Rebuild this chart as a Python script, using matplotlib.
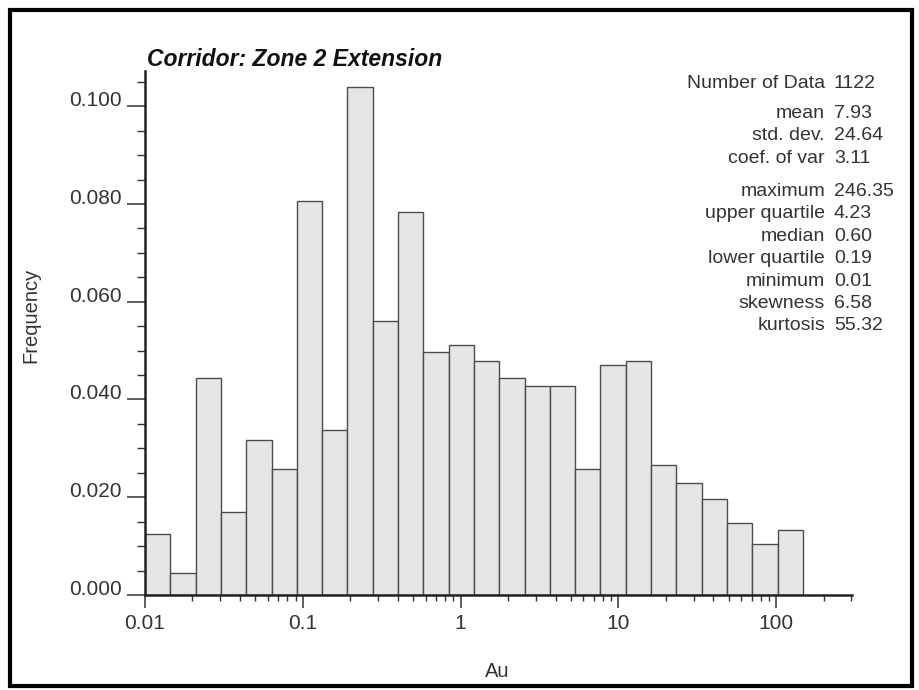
import numpy as np
import matplotlib
matplotlib.use("Agg")
import matplotlib.pyplot as plt
from matplotlib.patches import Rectangle
from matplotlib.ticker import LogLocator, FixedLocator, NullFormatter

plt.rcParams['font.family'] = ['Liberation Sans', 'DejaVu Sans']

# histogram of Au (log bins), frequencies
bin_lo = 0.01
bin_hi = 148.0
freq = [0.0124, 0.0044, 0.0444, 0.0169, 0.0318, 0.0257, 0.0806, 0.0338,
        0.1039, 0.0561, 0.0783, 0.0497, 0.0512, 0.0479, 0.0444, 0.0427,
        0.0427, 0.0257, 0.0470, 0.0479, 0.0266, 0.0229, 0.0196, 0.0148,
        0.0104, 0.0132]

stat_names = ["Number of Data", "mean", "std. dev.", "coef. of var",
              "maximum", "upper quartile", "median", "lower quartile",
              "minimum", "skewness", "kurtosis"]
stat_vals = ["1122", "7.93", "24.64", "3.11", "246.35", "4.23", "0.60",
             "0.19", "0.01", "6.58", "55.32"]

title = "Corridor: Zone 2 Extension"
yticks = [0.0, 0.02, 0.04, 0.06, 0.08, 0.10]
xticks = [0.01, 0.1, 1, 10, 100]
xticklabels = ["0.01", "0.1", "1", "10", "100"]

edges = np.logspace(np.log10(bin_lo), np.log10(bin_hi), len(freq) + 1)

W, H = 920, 690
fig = plt.figure(figsize=(W/100, H/100), dpi=100)
ax = fig.add_axes([145/W, 1-595/H, (852-145)/W, (595-71)/H])

ax.bar(edges[:-1], freq, width=np.diff(edges), align='edge',
       color='#e6e6e6', edgecolor='#4d4d4d', linewidth=1.0)

ax.set_xscale('log')
ax.set_xlim(0.01, 303)
ax.set_ylim(0, 0.1072)

for s in ['top', 'right']:
    ax.spines[s].set_visible(False)
for s in ['left', 'bottom']:
    ax.spines[s].set_linewidth(1.8)
    ax.spines[s].set_color('#222222')

ax.xaxis.set_major_locator(FixedLocator(xticks))
ax.xaxis.set_minor_locator(LogLocator(base=10, subs=np.arange(2, 10)))
ax.xaxis.set_minor_formatter(NullFormatter())
ax.set_xticklabels(xticklabels)
ax.yaxis.set_major_locator(FixedLocator(yticks))
ax.yaxis.set_minor_locator(FixedLocator(np.arange(0, 0.1071, 0.005)))
ax.set_yticklabels(["%.3f" % v for v in yticks])
ax.yaxis.set_minor_formatter(NullFormatter())

ax.tick_params(axis='x', which='major', direction='out', length=9, width=1.1,
               labelsize=15, colors='#333333', pad=5)
ax.tick_params(axis='x', which='minor', direction='out', length=4.5, width=1.0,
               colors='#333333')
ax.tick_params(axis='y', which='major', direction='out', length=13, width=1.1,
               labelsize=15, colors='#333333', pad=4)
ax.tick_params(axis='y', which='minor', direction='out', length=5.5, width=1.0,
               colors='#333333')
for lab in ax.get_yticklabels():
    lab.set_va('baseline')

fig.text(497/W, 1-677/H, "Au", fontsize=14.5, ha='center', va='baseline',
         color='#333333')
fig.text(31/W, 1-315/H, "Frequency", fontsize=14.5, rotation=90,
         ha='center', va='center', color='#333333')

fig.text(147/W, 1-66/H, title, fontsize=16.5, fontweight='bold',
         fontstyle='italic', va='baseline', ha='left', color='#111111')

# stats block
ys = [88, 118, 140.5, 163, 196, 218, 241, 263, 286, 308, 330]
for name, val, y in zip(stat_names, stat_vals, ys):
    fig.text(825/W, 1-y/H, name, fontsize=14, ha='right',
             va='baseline', color='#333333')
    fig.text(834/W, 1-y/H, val, fontsize=14, ha='left',
             va='baseline', color='#333333')

# outer frame
fig.patches.append(Rectangle((10/W, 4/H), 902/W, 676/H,
                             transform=fig.transFigure, fill=False,
                             edgecolor='black', linewidth=3))

fig.savefig("out.png", dpi=100)
plt.close(fig)
